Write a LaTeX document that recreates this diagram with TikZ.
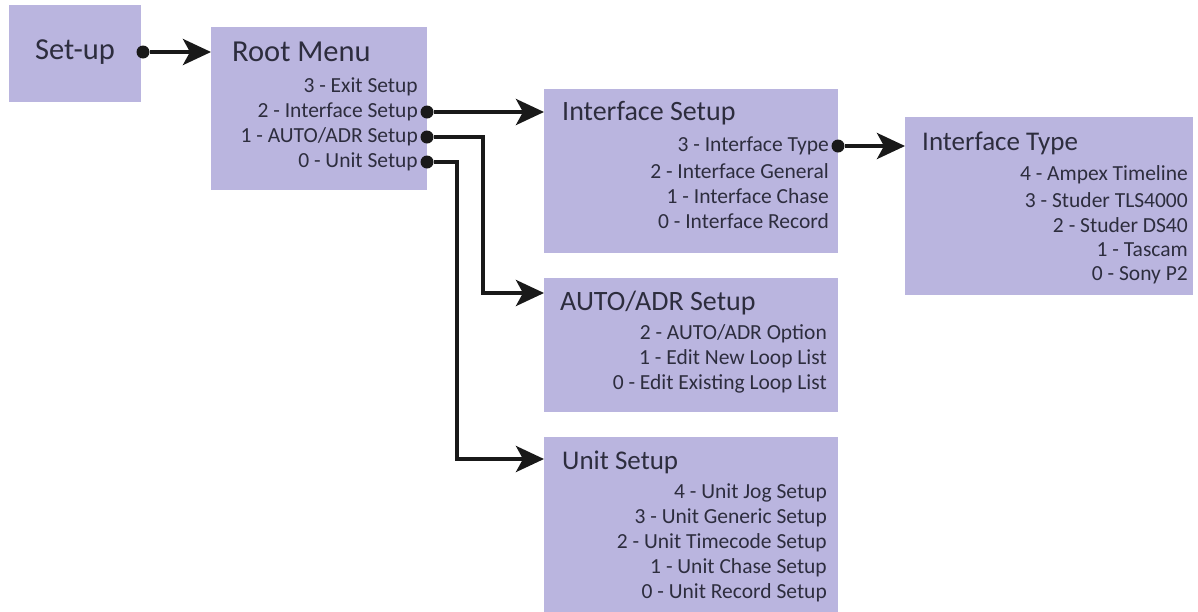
\documentclass[tikz,border=0pt]{standalone}
\usepackage{fontspec}
\setmainfont{Carlito}
\usetikzlibrary{arrows.meta,positioning,calc}
\definecolor{boxfill}{RGB}{186,181,223}
\definecolor{txt}{RGB}{45,45,62}
\tikzset{
  menubox/.style={draw=none, fill=boxfill, anchor=north west, inner sep=0pt},
  ttl/.style={anchor=west, inner sep=0pt, text=txt, font=\fontsize{28}{30}\selectfont},
  bigttl/.style={ttl, font=\fontsize{30.5}{32}\selectfont},
  itm/.style={anchor=east, inner sep=0pt, text=txt, font=\fontsize{21.5}{24}\selectfont},
  dotnode/.style={circle, fill=black!90, inner sep=0pt, minimum size=13pt},
  conn/.style={line width=4pt, draw=black!90, -{Stealth[length=28pt,width=26pt,inset=7pt]}}
}
\begin{document}
\begin{tikzpicture}[x=1pt,y=-1pt]
\useasboundingbox (0,0) rectangle (1198,611);
% boxes
\node[menubox, minimum width=132pt, minimum height=97pt] (setup) at (9,5) {};
\node[menubox, minimum width=216pt, minimum height=163pt] (root) at (211,27) {};
\node[menubox, minimum width=294pt, minimum height=164pt] (iface) at (544,89) {};
\node[menubox, minimum width=288pt, minimum height=178pt] (itype) at (905,117) {};
\node[menubox, minimum width=294pt, minimum height=134pt] (auto) at (544,278) {};
\node[menubox, minimum width=294pt, minimum height=180pt] (unit) at (544,437) {};
% titles
\node[bigttl] (tSetup) at (35,52) {Set-up};
\node[bigttl] (tRoot) at (232,52) {Root Menu};
\node[ttl] (tIface) at (562,113) {Interface Setup};
\node[ttl, font=\fontsize{27}{29}\selectfont] (tType) at (922,143) {Interface Type};
\node[ttl] (tAuto) at (560,303) {AUTO/ADR Setup};
\node[ttl, font=\fontsize{27}{29}\selectfont] (tUnit) at (562,462) {Unit Setup};
% root items
\node[itm] (r3) at (418,87) {3 - Exit Setup};
\node[itm] (r2) at (418,112) {2 - Interface Setup};
\node[itm] (r1) at (418,137) {1 - AUTO/ADR Setup};
\node[itm] (r0) at (418,162) {0 - Unit Setup};
% interface setup items
\node[itm] (i3) at (829,146) {3 - Interface Type};
\node[itm] (i2) at (829,171) {2 - Interface General};
\node[itm] (i1) at (829,196) {1 - Interface Chase};
\node[itm] (i0) at (829,221) {0 - Interface Record};
% interface type items
\node[itm] (t4) at (1188,175) {4 - Ampex Timeline};
\node[itm] (t3) at (1188,200) {3 - Studer TLS4000};
\node[itm] (t2) at (1188,225) {2 - Studer DS40};
\node[itm] (t1) at (1188,250) {1 - Tascam};
\node[itm] (t0) at (1188,275) {0 - Sony P2};
% auto items
\node[itm] (a2) at (827,334) {2 - AUTO/ADR Option};
\node[itm] (a1) at (827,359) {1 - Edit New Loop List};
\node[itm] (a0) at (827,384) {0 - Edit Existing Loop List};
% unit items
\node[itm] (u4) at (827,493) {4 - Unit Jog Setup};
\node[itm] (u3) at (827,518) {3 - Unit Generic Setup};
\node[itm] (u2) at (827,543) {2 - Unit Timecode Setup};
\node[itm] (u1) at (827,568) {1 - Unit Chase Setup};
\node[itm] (u0) at (827,593) {0 - Unit Record Setup};
% dots
\node[dotnode] (dS) at (143,52) {};
\node[dotnode] (dI) at (427,112) {};
\node[dotnode] (dA) at (427,137) {};
\node[dotnode] (dU) at (427,162) {};
\node[dotnode] (dT) at (838,146) {};
% entry points
\coordinate (autoIn) at (544,293);
\coordinate (unitIn) at (544,459);
% connectors
\draw[conn] (dS) -- (dS -| root.west);
\draw[conn] (dI) -- (dI -| iface.west);
\draw[conn] (dT) -- (dT -| itype.west);
\draw[conn] (dA) -- (483,137) |- (autoIn);
\draw[conn] (dU) -- (457,162) |- (unitIn);
\end{tikzpicture}
\end{document}
